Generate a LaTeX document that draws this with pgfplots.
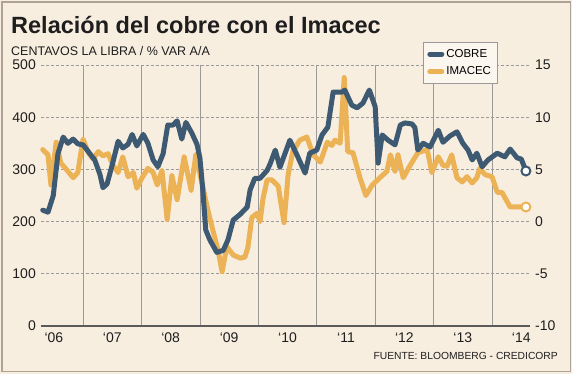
\documentclass[border=0pt]{standalone}
\usepackage{pgfplots}
\pgfplotsset{compat=1.18}
\usepackage{pgfplotstable}
\usepackage{fontspec}
\setmainfont{Liberation Sans}
\definecolor{bg}{HTML}{F7EEE0}
\definecolor{legfill}{HTML}{FBF6EE}
\definecolor{cobre}{HTML}{3E5A72}
\definecolor{imacec}{HTML}{ECB256}
\definecolor{gridgray}{HTML}{9A9A9A}
\definecolor{axisgray}{HTML}{5A5A5A}
\definecolor{framec}{HTML}{B0A296}
\definecolor{txt}{HTML}{1E1E1E}

\pgfplotstableread{
t L
2006.31 222
2006.40 218
2006.49 250
2006.57 330
2006.66 362
2006.74 350
2006.83 358
2006.91 349
2007.00 347
2007.09 334
2007.20 318
2007.29 290
2007.34 265
2007.41 272
2007.50 309
2007.60 354
2007.68 341
2007.77 348
2007.84 367
2007.92 345
2008.03 367
2008.11 350
2008.20 318
2008.28 305
2008.37 330
2008.45 385
2008.54 385
2008.61 393
2008.69 358
2008.76 390
2008.86 370
2008.95 348
2009.00 322
2009.05 260
2009.10 184
2009.17 165
2009.29 141
2009.40 145
2009.48 165
2009.57 203
2009.69 214
2009.81 228
2009.86 261
2009.94 283
2010.03 283
2010.15 298
2010.20 310
2010.29 337
2010.37 304
2010.54 356
2010.66 328
2010.80 293
2010.88 331
2011.00 337
2011.09 366
2011.19 381
2011.28 448
2011.43 448
2011.48 452
2011.60 423
2011.69 418
2011.79 427
2011.90 452
2012.00 420
2012.05 312
2012.12 366
2012.22 356
2012.34 347
2012.43 385
2012.51 389
2012.63 387
2012.68 380
2012.73 337
2012.82 350
2012.94 343
2013.08 375
2013.16 352
2013.28 364
2013.40 372
2013.50 350
2013.59 337
2013.66 318
2013.74 331
2013.83 305
2013.93 318
2014.09 331
2014.22 324
2014.31 339
2014.43 322
2014.50 320
2014.58 297
}\cobredata

\pgfplotstableread{
t R
2006.31 6.9
2006.40 6.4
2006.45 3.5
2006.54 7.6
2006.62 5.6
2006.73 4.9
2006.83 4.2
2006.91 4.7
2007.00 7.9
2007.09 6.6
2007.17 6.0
2007.26 6.7
2007.34 6.3
2007.43 6.5
2007.51 5.4
2007.60 4.7
2007.68 6.2
2007.77 4.3
2007.86 4.7
2007.92 3.2
2008.01 4.2
2008.11 5.1
2008.20 4.7
2008.27 3.5
2008.35 4.9
2008.44 0.2
2008.52 4.4
2008.61 2.1
2008.73 6.2
2008.85 3.0
2008.93 6.4
2009.14 1.0
2009.22 -0.8
2009.31 -2.7
2009.38 -4.8
2009.46 -2.4
2009.57 -3.2
2009.69 -3.5
2009.77 -3.4
2009.82 -2.5
2009.89 0.4
2009.98 0.8
2010.03 0.0
2010.08 2.2
2010.15 4.0
2010.23 4.0
2010.34 3.4
2010.44 -0.1
2010.51 4.5
2010.59 6.7
2010.71 7.8
2010.83 8.1
2010.94 6.4
2011.06 5.7
2011.18 7.6
2011.26 7.3
2011.31 7.8
2011.40 7.5
2011.47 13.8
2011.53 6.7
2011.62 6.6
2011.74 4.2
2011.84 2.5
2011.95 3.5
2012.08 4.2
2012.20 4.8
2012.26 6.4
2012.34 4.8
2012.39 6.4
2012.48 4.2
2012.60 5.4
2012.73 6.6
2012.89 6.9
2012.97 4.7
2013.08 6.2
2013.16 5.4
2013.23 5.3
2013.31 6.4
2013.40 4.2
2013.49 3.8
2013.57 4.3
2013.66 3.7
2013.74 4.2
2013.79 5.1
2013.88 4.5
2014.00 4.3
2014.09 2.8
2014.17 2.8
2014.31 1.4
2014.58 1.4
}\imacecdata

\begin{document}
\begin{tikzpicture}[x=1pt,y=1pt]
\fill[bg] (0,0) rectangle (572,374);
\draw[framec, line width=1.5pt] (2,2.5) rectangle (570.5,372);
\node[anchor=base west, inner sep=0pt, text=txt] at (11,340) {\fontsize{23.5}{26}\selectfont\bfseries Relación del cobre con el Imacec};
\node[anchor=base west, inner sep=0pt, text=txt] at (11,318) {\fontsize{12.5}{14}\selectfont CENTAVOS LA LIBRA / \% VAR A/A};
\node[anchor=base east, inner sep=0pt, text=txt] at (558,14) {\fontsize{10.3}{12}\selectfont FUENTE: BLOOMBERG - CREDICORP};

% right-scale axis: IMACEC, grids
\begin{axis}[
  at={(41pt,48pt)}, anchor=south west,
  scale only axis, width=489pt, height=261pt,
  xmin=2006.28, xmax=2014.65,
  ymin=-10, ymax=15,
  axis x line*=bottom, axis y line*=right,
  x axis line style={axisgray, line width=1.5pt, -},
  y axis line style={draw=none},
  xtick={2007,2008,...,2014}, xticklabels={},
  xmajorgrids, ymajorgrids,
  major x grid style={gridgray, line width=0.8pt},
  major y grid style={gridgray, line width=0.7pt, dash pattern=on 3pt off 2pt},
  ytick={-10,-5,0,5,10,15},
  yticklabels={-10,-5,0,5,10,15},
  major tick length=0pt,
  yticklabel style={anchor=west, inner sep=0pt, xshift=5pt, font=\fontsize{14}{16}\selectfont, text=txt},
  clip=false,
]
\addplot[imacec, line width=5pt, line join=round, line cap=round] table[x=t,y=R] {\imacecdata};
\addplot[only marks, mark=*, mark size=4.5pt, mark options={fill=white, draw=imacec, line width=2pt}] coordinates {(2014.58,1.4)};
\end{axis}

% left-scale axis: COBRE
\begin{axis}[
  at={(41pt,48pt)}, anchor=south west,
  scale only axis, width=489pt, height=261pt,
  xmin=2006.28, xmax=2014.65,
  ymin=0, ymax=500,
  axis x line*=bottom, axis y line*=left,
  x axis line style={draw=none},
  y axis line style={draw=none},
  xtick={2006.5,2007.5,...,2014.5},
  xticklabels={‘06,‘07,‘08,‘09,‘10,‘11,‘12,‘13,‘14},
  ytick={0,100,...,500},
  yticklabels={0,100,200,300,400,500},
  major tick length=0pt,
  xticklabel style={anchor=base, inner sep=0pt, yshift=-17pt, font=\fontsize{14}{16}\selectfont, text=txt},
  yticklabel style={anchor=east, inner sep=0pt, xshift=-5pt, font=\fontsize{14}{16}\selectfont, text=txt},
  clip=false,
  legend style={at={(0.7812,1.088)}, anchor=north west, draw=gridgray, fill=legfill,
    font=\fontsize{11.5}{13}\selectfont, inner xsep=4pt, inner ysep=5pt, row sep=4pt,
    cells={anchor=west}, line width=0.6pt},
  legend image code/.code={\draw[#1, line width=5pt, line cap=round] (2.5pt,0pt) -- (14.5pt,0pt);},
]
\addplot[cobre, line width=5pt, line join=round, line cap=round] table[x=t,y=L] {\cobredata};
\addlegendentry{COBRE}
\addplot[forget plot, only marks, mark=*, mark size=4.5pt, mark options={fill=white, draw=cobre, line width=2pt}] coordinates {(2014.58,297)};
\addlegendimage{imacec, line width=5pt}
\addlegendentry{IMACEC}
\end{axis}
\end{tikzpicture}
\end{document}
